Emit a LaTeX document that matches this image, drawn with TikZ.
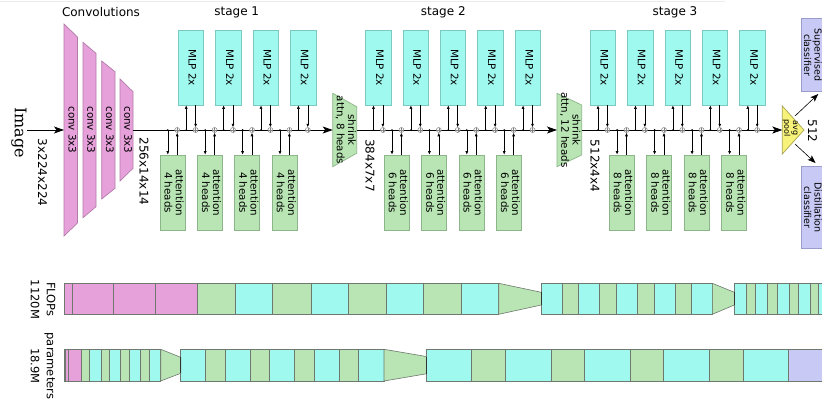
\documentclass[tikz,border=0pt]{standalone}
\usepackage{fontspec}
\setmainfont{DejaVu Sans}
\newfontfamily\imgfont{DejaVu Serif}
\usepackage{graphicx}
\usetikzlibrary{arrows.meta}
\definecolor{cpink}{HTML}{E6A0DA}
\definecolor{cpinkd}{HTML}{B47CAA}
\definecolor{cgreen}{HTML}{B8E5B3}
\definecolor{cgreend}{HTML}{8DB58A}
\definecolor{ccyan}{HTML}{A0F9EF}
\definecolor{ccyand}{HTML}{7CC9C0}
\definecolor{clav}{HTML}{C8CAF5}
\definecolor{clavd}{HTML}{9A9DCB}
\definecolor{cyel}{HTML}{F7F27A}
\definecolor{cyeld}{HTML}{A8A450}
\definecolor{segline}{HTML}{6E786E}
\newcommand{\rtext}[1]{\rotatebox{-90}{\begin{tabular}{@{}c@{}}#1\end{tabular}}}
\tikzset{
  x=1pt, y=-1pt,
  boxfont/.style={font=\fontsize{10.3}{11}\selectfont},
  mlpbox/.style={draw=ccyand, fill=ccyan, line width=0.7pt, minimum width=25.5pt, minimum height=75pt, inner sep=0pt, boxfont},
  attbox/.style={draw=cgreend, fill=cgreen, line width=0.7pt, minimum width=25pt, minimum height=75pt, inner sep=0pt, boxfont},
  lavbox/.style={draw=clavd, fill=clav, line width=0.7pt, minimum width=28pt, inner sep=0pt},
  lavtext/.style={inner sep=0pt, font=\fontsize{9.5}{10.5}\selectfont},
  conn/.style={-{Latex[length=3.5pt,width=3pt]}, line width=0.6pt},
  mainarr/.style={-{Stealth[length=10pt,width=7pt,inset=2.5pt]}, line width=0.8pt},
  smallarr/.style={-{Stealth[length=8pt,width=6pt,inset=2pt]}, line width=0.6pt},
  addc/.style={circle, draw=gray, fill=white, inner sep=0pt, minimum size=5pt, line width=0.5pt,
    path picture={\draw[gray, line width=0.4pt] (path picture bounding box.north) -- (path picture bounding box.south)
      (path picture bounding box.west) -- (path picture bounding box.east);}},
  convshape/.style={draw=cpinkd, fill=cpink, line width=0.7pt},
  shrinkshape/.style={draw=cgreend, fill=cgreen, line width=0.7pt},
  seg/.style={draw=segline, line width=0.6pt},
  lbl/.style={font=\fontsize{12}{14}\selectfont, inner sep=0pt},
}
\begin{document}
\begin{tikzpicture}
\clip (0,0) rectangle (822,404);
\fill[white] (0,0) rectangle (822,404);
\draw[gray!15, line width=0.6pt] (0,1.5) -- (725,1.5);

% titles
\node[lbl] (tconv) at (101,12) {Convolutions};
\node[lbl] (tst1) at (236.7,12) {stage 1};
\node[lbl] (tst2) at (443.3,12) {stage 2};
\node[lbl] (tst3) at (675,12) {stage 3};

% image
\node[inner sep=0pt, font=\imgfont\fontsize{16}{18}\selectfont] (img) at (19,132.5) {\rotatebox{-90}{Image}};
\node[lbl] (dimimg) at (42.5,172.5) {\rotatebox{-90}{3x224x224}};

% convolutions
\draw[convshape] (64,24) -- (77.5,37) -- (77.5,223) -- (64,236) -- cycle;
\draw[convshape] (83,42.3) -- (96,53.3) -- (96,206.7) -- (83,217.7) -- cycle;
\draw[convshape] (101.7,61) -- (115,71.7) -- (115,188.3) -- (101.7,199) -- cycle;
\draw[convshape] (120,79) -- (133,91.7) -- (133,168.3) -- (120,181) -- cycle;
\node[boxfont, inner sep=0pt] (c1) at (70.8,130) {\rtext{conv 3x3}};
\node[boxfont, inner sep=0pt] (c2) at (89.5,130) {\rtext{conv 3x3}};
\node[boxfont, inner sep=0pt] (c3) at (108.3,130) {\rtext{conv 3x3}};
\node[boxfont, inner sep=0pt] (c4) at (126.5,130) {\rtext{conv 3x3}};
\coordinate (imgstart) at (27,130);
\coordinate (c1w) at (64,130);
\coordinate (c4e) at (133,130);
\draw[mainarr] (imgstart) -- (c1w);
\node[lbl] (dim1) at (144,171.5) {\rotatebox{-90}{256x14x14}};

% shrink blocks
\draw[shrinkshape] (332.7,93.3) -- (356.7,106.7) -- (356.7,153.3) -- (332.7,166.7) -- cycle;
\node[boxfont, inner sep=0pt] (sh1) at (344.7,130) {\rtext{shrink\\attn, 8 heads}};
\coordinate (sh1w) at (332.7,130);
\coordinate (sh1e) at (356.7,130);
\draw[shrinkshape] (557,93.3) -- (581.7,105) -- (581.7,155) -- (557,166.7) -- cycle;
\node[boxfont, inner sep=0pt] (sh2) at (569.3,130) {\rtext{shrink\\attn, 12 heads}};
\coordinate (sh2w) at (557,130);
\coordinate (sh2e) at (581.7,130);
\node[lbl] (dim2) at (370,165.5) {\rotatebox{-90}{384x7x7}};
\node[lbl] (dim3) at (595,166) {\rotatebox{-90}{512x4x4}};

% avg pool
\draw[draw=cyeld, fill=cyel, line width=0.7pt] (782.3,106) -- (804,130) -- (782.3,154) -- cycle;
\node[inner sep=0pt, font=\fontsize{8}{8.5}\selectfont] (pool) at (790.5,128) {\rtext{avg\\pool}};
\coordinate (poolw) at (782.3,130);
\coordinate (poolt) at (795,116);
\coordinate (poolb) at (795,144);

% main lines
\draw[mainarr] (c4e) -- (sh1w);
\draw[mainarr] (sh1e) -- (sh2w);
\draw[mainarr] (sh2e) -- (poolw);

% classifiers
\node[lavbox, minimum height=73.4pt] (sup) at (815,55) {};
\node[lavtext] (suptxt) at (811.5,55) {\rtext{Supervised\\classifier}};
\node[lavbox, minimum height=81.6pt] (dist) at (815,207.5) {};
\node[lavtext] (disttxt) at (811.5,207.5) {\rtext{Distillation\\classifier}};
\coordinate (supin) at (818.3,94);
\coordinate (distin) at (815.5,163);
\draw[smallarr] (poolt) -- (supin);
\draw[smallarr] (poolb) -- (distin);
\node[lbl] (d512) at (812.5,131) {\rotatebox{-90}{512}};

% stage 1
\foreach \i in {0,...,3} {
  \pgfmathsetmacro{\a}{172.5+37.4*\i}
  \pgfmathsetmacro{\m}{190.9+37.4*\i}
  \node[attbox] (s1a\i) at (\a,192.5) {\rtext{attention\\4 heads}};
  \node[mlpbox] (s1m\i) at (\m,67.5) {\rtext{MLP 2x}};
  \node[addc] (s1ap\i) at (\a+4.7,130) {};
  \node[addc] (s1mp\i) at (\m+4.7,130) {};
  \coordinate (s1ab\i) at (\a-4.7,130);
  \coordinate (s1mb\i) at (\m-4.7,130);
  \fill (s1ab\i) circle (0.9pt);
  \fill (s1mb\i) circle (0.9pt);
  \draw[conn] (s1ab\i) -- (s1ab\i |- s1a\i.north);
  \draw[conn] (s1ap\i |- s1a\i.north) -- (s1ap\i.south);
  \draw[conn] (s1mb\i) -- (s1mb\i |- s1m\i.south);
  \draw[conn] (s1mp\i |- s1m\i.south) -- (s1mp\i.north);
}

% stage 2
\foreach \i in {0,...,4} {
  \pgfmathsetmacro{\m}{378.2+37.4*\i}
  \node[mlpbox] (s2m\i) at (\m,67.5) {\rtext{MLP 2x}};
  \node[addc] (s2mp\i) at (\m+4.7,130) {};
  \coordinate (s2mb\i) at (\m-4.7,130);
  \fill (s2mb\i) circle (0.9pt);
  \draw[conn] (s2mb\i) -- (s2mb\i |- s2m\i.south);
  \draw[conn] (s2mp\i |- s2m\i.south) -- (s2mp\i.north);
}
\foreach \i in {0,...,3} {
  \pgfmathsetmacro{\a}{396.7+37.4*\i}
  \node[attbox] (s2a\i) at (\a,192.5) {\rtext{attention\\6 heads}};
  \node[addc] (s2ap\i) at (\a+4.7,130) {};
  \coordinate (s2ab\i) at (\a-4.7,130);
  \fill (s2ab\i) circle (0.9pt);
  \draw[conn] (s2ab\i) -- (s2ab\i |- s2a\i.north);
  \draw[conn] (s2ap\i |- s2a\i.north) -- (s2ap\i.south);
}

% stage 3
\foreach \i in {0,...,4} {
  \pgfmathsetmacro{\m}{602.7+37.45*\i}
  \node[mlpbox] (s3m\i) at (\m,67.5) {\rtext{MLP 2x}};
  \node[addc] (s3mp\i) at (\m+4.7,130) {};
  \coordinate (s3mb\i) at (\m-4.7,130);
  \fill (s3mb\i) circle (0.9pt);
  \draw[conn] (s3mb\i) -- (s3mb\i |- s3m\i.south);
  \draw[conn] (s3mp\i |- s3m\i.south) -- (s3mp\i.north);
}
\foreach \i in {0,...,3} {
  \pgfmathsetmacro{\a}{621.8+37.5*\i}
  \node[attbox] (s3a\i) at (\a,192.5) {\rtext{attention\\8 heads}};
  \node[addc] (s3ap\i) at (\a+4.7,130) {};
  \coordinate (s3ab\i) at (\a-4.7,130);
  \fill (s3ab\i) circle (0.9pt);
  \draw[conn] (s3ab\i) -- (s3ab\i |- s3a\i.north);
  \draw[conn] (s3ap\i |- s3a\i.north) -- (s3ap\i.south);
}

% FLOPs bar
\node[inner sep=0pt, font=\fontsize{11.5}{16}\selectfont] (flops) at (42,299.5) {\rtext{FLOPs\\1120M}};
\foreach \xa/\xb/\c in {64/72.3/cpink, 72.3/113.7/cpink, 113.7/155.3/cpink, 155.3/197/cpink,
  197/235.7/cgreen, 235.7/272.7/ccyan, 272.7/311/cgreen, 311/348.3/ccyan,
  348.3/386.3/cgreen, 386.3/423.3/ccyan, 423.3/461.7/cgreen, 461.7/498.7/ccyan,
  541.3/562.3/ccyan, 562.3/578.7/cgreen, 578.7/599.7/ccyan, 599.7/616.7/cgreen,
  616.7/637.7/ccyan, 637.7/654.3/cgreen, 654.3/675/ccyan, 675/691.7/cgreen, 691.7/712.3/ccyan,
  734.3/746.3/ccyan, 746.3/755.3/cgreen, 755.3/767.3/ccyan, 767.3/777/cgreen,
  777/789/ccyan, 789/798/cgreen, 798/810/ccyan, 810/818.7/cgreen, 818.7/830/ccyan}
  {\draw[seg, fill=\c] (\xa,283.3) rectangle (\xb,314.3);}
\draw[seg, fill=cgreen] (498.7,283.3) -- (541.3,292.3) -- (541.3,305) -- (498.7,314.3) -- cycle;
\draw[black!80, line width=0.7pt] (541.3,292.3) -- (541.3,305);
\draw[seg, fill=cgreen] (712.3,283.3) -- (734.3,292.3) -- (734.3,305) -- (712.3,314.3) -- cycle;
\draw[black!80, line width=0.7pt] (734.3,292.3) -- (734.3,305);

% parameters bar
\node[inner sep=0pt, font=\fontsize{11.5}{16}\selectfont] (params) at (42,366) {\rtext{parameters\\18.9M}};
\foreach \xa/\xb/\c in {64/64.4/cpink, 64.4/65.2/cpink, 65.2/67.9/cpink, 67.9/81/cpink,
  81/89.7/cgreen, 89.7/101/ccyan, 101/109.7/cgreen, 109.7/120.7/ccyan,
  120.7/129.3/cgreen, 129.3/140.3/ccyan, 140.3/149.3/cgreen, 149.3/160.7/ccyan,
  180.7/205.7/ccyan, 205.7/225.3/cgreen, 225.3/250.3/ccyan, 250.3/269.7/cgreen,
  269.7/294.7/ccyan, 294.7/314/cgreen, 314/339/ccyan, 339/358.3/cgreen, 358.3/384/ccyan,
  426.3/471.7/ccyan, 471.7/505.7/cgreen, 505.7/551/ccyan, 551/584.7/cgreen,
  584.7/630/ccyan, 630/663.7/cgreen, 663.7/709/ccyan, 709/743/cgreen, 743/788.3/ccyan,
  788.3/830/clav}
  {\draw[seg, fill=\c] (\xa,349.3) rectangle (\xb,381);}
\draw[seg, fill=cgreen] (160.7,349.3) -- (180.7,357.3) -- (180.7,373.3) -- (160.7,381) -- cycle;
\draw[black!80, line width=0.7pt] (180.7,357.3) -- (180.7,373.3);
\draw[seg, fill=cgreen] (384,349.3) -- (426.3,356.5) -- (426.3,373.8) -- (384,381) -- cycle;
\draw[black!80, line width=0.7pt] (426.3,356.5) -- (426.3,373.8);
\end{tikzpicture}
\end{document}
